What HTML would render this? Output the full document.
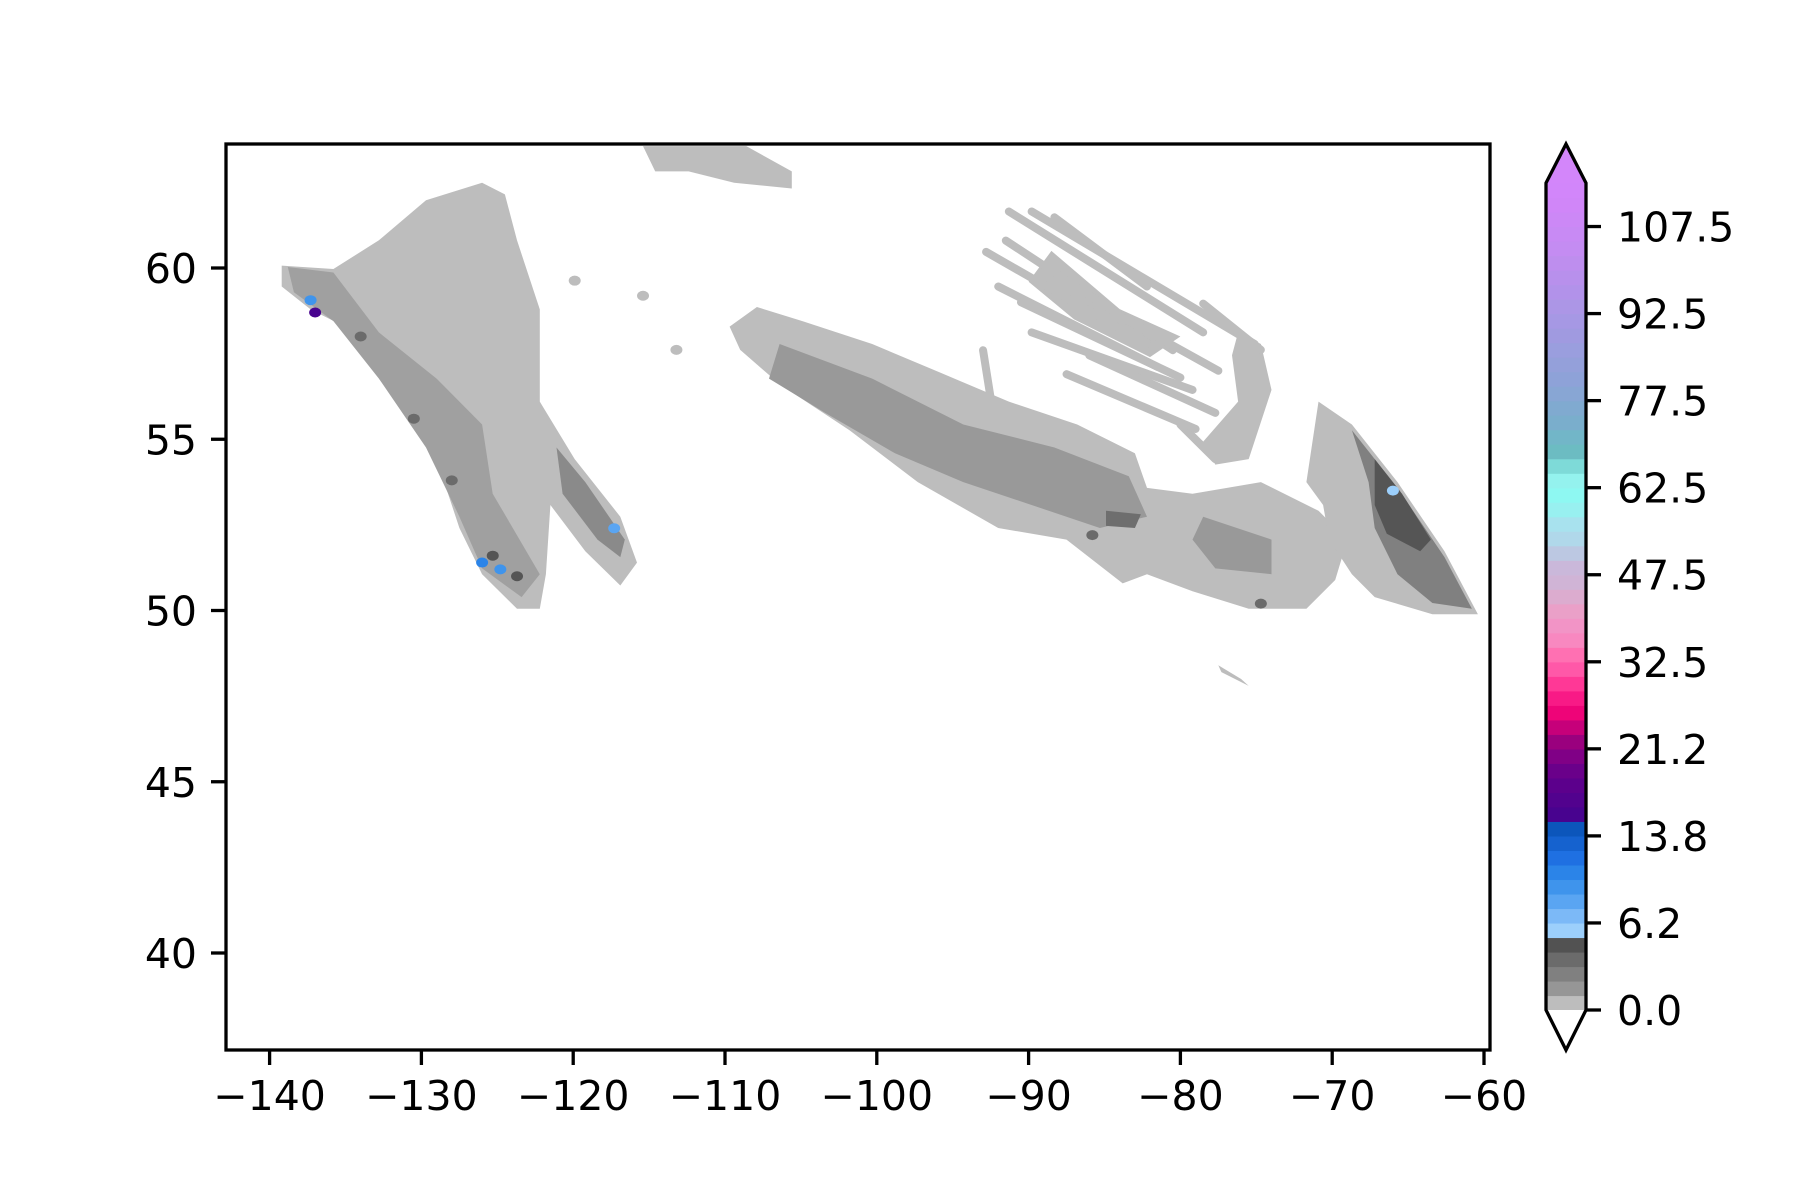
<!DOCTYPE html>
<html><head><meta charset="utf-8"><style>
html,body{margin:0;padding:0;background:#fff;}
svg{display:block;font-family:"DejaVu Sans","Liberation Sans",sans-serif;}
</style></head><body>
<svg id="fig" width="1800" height="1200" viewBox="0 0 1800 1200" xmlns="http://www.w3.org/2000/svg">
<rect width="1800" height="1200" fill="#fff"/>
<defs><clipPath id="clipAx"><rect x="226" y="144" width="1264" height="906"/></clipPath></defs>
<g id="map" clip-path="url(#clipAx)"></g>
<g id="axes"></g>
<g id="cbar"></g>
</svg>
<script>
// ---- data ----
const xTicks = [-140,-130,-120,-110,-100,-90,-80,-70,-60];
const yTicks = [60,55,50,45,40];
const cbarTickLabels = ["0.0","6.2","13.8","21.2","32.5","47.5","62.5","77.5","92.5","107.5"];
const cbarColors = ["#bdbdbd","#969696","#808080","#6b6b6b","#525252","#9ccffb",
"#7cb9f7","#5aa5f2","#3f94ec","#2b84e8","#1f70e2","#1562cf",
"#0c56bb","#48038f","#52028e","#5c008c","#6a008a","#800086",
"#9a007e","#c6007a","#ee0478","#f81a86","#ff3896","#ff58a8",
"#ff70b2","#f888c0","#f294c6","#eaa0c8","#dcaccf","#d0b4d6",
"#cab8da","#bcc8e2","#b0d8ea","#a8e2ee","#98f0f0","#8ef8f2",
"#94f2ee","#7edad8","#6cbcc2","#72b6c8","#7aaecc","#80aad0",
"#88a6d4","#8ea2d8","#94a0da","#9a9ede","#a09ae0","#a698e4",
"#ac96e6","#b292ea","#b890ec","#be8eee","#c48cf2","#c88af4",
"#cc88f6","#d086f8","#d286fa"];
// contour regions: color and lon/lat vertices
const regionColors = ["#bdbdbd","#bdbdbd","#bdbdbd","#999999","#999999","#6e6e6e","#bdbdbd","#808080","#555555","#bdbdbd","#bdbdbd","#a0a0a0","#8a8a8a","#bdbdbd"];
const regionCoords = [
 [[-109.7,58.29],[-107.9,58.86],[-104.9,58.45],[-100.3,57.78],[-95.8,56.94],[-91.3,56.10],[-86.8,55.43],[-83.0,54.59],[-82.2,53.58],[-79.2,53.41],[-74.7,53.75],[-70.9,52.91],[-69.0,52.07],[-69.8,50.89],[-71.7,50.05],[-75.5,50.05],[-79.2,50.56],[-82.2,51.06],[-83.8,50.79],[-87.5,52.07],[-92.0,52.41],[-97.3,53.75],[-101.8,55.26],[-106.4,56.61],[-109.0,57.61]],
 [[-70.9,56.10],[-68.7,55.43],[-65.7,53.75],[-62.6,51.73],[-60.4,49.89],[-63.4,49.89],[-67.2,50.39],[-68.7,51.06],[-70.2,52.07],[-70.6,53.08],[-71.7,53.75]],
 [[-76.2,58.12],[-74.7,57.78],[-74.0,56.44],[-75.5,54.42],[-77.7,54.26],[-78.5,54.93],[-76.2,56.10],[-76.6,57.45]],
 [[-106.4,57.78],[-100.3,56.77],[-94.3,55.43],[-88.3,54.76],[-83.4,53.92],[-82.2,52.74],[-85.3,52.41],[-89.8,53.08],[-94.3,53.75],[-98.8,54.59],[-103.4,55.77],[-107.1,56.77]],
 [[-78.5,52.74],[-74.0,52.07],[-74.0,51.06],[-77.7,51.23],[-79.2,52.07]],
 [[-84.9,52.91],[-82.6,52.81],[-83.0,52.41],[-84.9,52.47]],
 [[-115.4,63.56],[-108.6,63.56],[-105.6,62.82],[-105.6,62.32],[-109.4,62.49],[-112.4,62.82],[-114.6,62.82]],
 [[-68.7,55.26],[-65.7,53.58],[-62.6,51.56],[-60.8,50.05],[-63.4,50.22],[-65.7,51.06],[-67.2,52.41],[-67.6,53.75]],
 [[-67.2,54.42],[-65.4,53.41],[-63.5,52.07],[-64.2,51.73],[-66.4,52.24],[-67.2,53.08]],
 [[-139.2,60.07],[-135.8,59.97],[-132.8,60.81],[-129.7,61.98],[-126.0,62.49],[-124.5,62.15],[-123.7,60.81],[-122.2,58.79],[-122.2,56.10],[-119.9,54.42],[-116.9,52.74],[-115.8,51.40],[-116.9,50.73],[-119.2,51.73],[-121.5,53.08],[-121.8,51.06],[-122.2,50.05],[-123.7,50.05],[-126.0,51.06],[-127.5,52.41],[-129.0,54.42],[-131.3,56.44],[-134.3,58.12],[-137.3,58.79],[-139.2,59.46]],
 [[-77.5,48.4],[-76.0,48.0],[-75.5,47.8],[-77.3,48.2]],
 [[-138.8,60.03],[-135.8,59.87],[-132.8,58.12],[-129.0,56.77],[-126.0,55.43],[-125.3,53.41],[-122.2,51.06],[-123.4,50.39],[-126.0,51.23],[-127.5,52.74],[-129.7,54.76],[-132.8,56.77],[-135.8,58.45],[-138.4,59.29]],
 [[-121.1,54.76],[-119.2,53.75],[-116.6,52.07],[-116.9,51.56],[-118.4,52.07],[-120.7,53.41]],
 [[-88.5,60.5],[-84.0,58.8],[-80.0,58.0],[-82.0,57.4],[-87.0,58.5],[-90.0,59.6]]
];
// streak segments (lon1,lat1,lon2,lat2)
const streaks = [[-92.8,60.47,-82.2,57.78],[-91.3,61.65,-78.5,58.12],[-89.8,61.65,-75.1,57.78],[-88.3,61.48,-82.2,59.46],[-92.0,59.46,-81.5,57.11],[-89.8,58.12,-79.2,56.44],[-86.0,57.45,-77.7,55.77],[-78.5,58.96,-74.7,57.61],[-80.0,55.43,-77.7,54.42],[-91.5,60.8,-80.5,57.6],[-90.5,59.0,-80.0,56.8],[-84.0,58.6,-77.5,57.0],[-87.5,56.9,-79.0,55.3],[-93.0,57.6,-92.5,56.2]];
// small spots
const spotLon = [-137.3,-137.0,-126.0,-124.8,-117.3,-66.0,-85.8,-74.7,-113.2,-115.4,-119.9,-123.7,-125.3,-128.0,-130.5,-134.0];
const spotLat = [59.06,58.7,51.4,51.2,52.4,53.5,52.2,50.2,57.61,59.19,59.63,51.0,51.6,53.8,55.6,58.0];
const spotVal = ["#3f94ec","#48038f","#2b84e8","#3f94ec","#5aa5f2","#9ccffb","#6b6b6b","#6b6b6b","#bdbdbd","#bdbdbd","#bdbdbd","#555555","#555555","#6b6b6b","#6b6b6b","#6b6b6b"];

// ---- axis functions ----
const NS="http://www.w3.org/2000/svg";
const X = lon => 269.6 + (lon + 140) * 15.18;
const Y = lat => 268 + (60 - lat) * 34.25;
function mk(tag, attrs, parent){const e=document.createElementNS(NS,tag);for(const k in attrs)e.setAttribute(k,attrs[k]);parent.appendChild(e);return e;}
const map=document.getElementById('map'), axes=document.getElementById('axes'), cbar=document.getElementById('cbar');

regionCoords.forEach((poly,i)=>{
  const p=mk('polygon',{points:poly.map(q=>X(q[0]).toFixed(1)+','+Y(q[1]).toFixed(1)).join(' '),fill:regionColors[i]},map);
  
  
});
streaks.forEach(s=>{
  const l=mk('line',{x1:X(s[0]),y1:Y(s[1]),x2:X(s[2]),y2:Y(s[3]),stroke:'#bdbdbd','stroke-width':8,'stroke-linecap':'round'},map);
  
  
});
spotLon.forEach((lon,i)=>{
  const c=mk('ellipse',{cx:X(lon),cy:Y(spotLat[i]),rx:6,ry:5,fill:spotVal[i]},map);
  
  
});

// spines
const fr=mk('rect',{x:226,y:144,width:1264,height:906,fill:'none',stroke:'#000','stroke-width':3.3},axes);


xTicks.forEach(v=>{
  const x=X(v);
  const t=mk('line',{x1:x,y1:1050,x2:x,y2:1065,stroke:'#000','stroke-width':3.3},axes);
  
  
  const tx=mk('text',{x:x,y:1110,'text-anchor':'middle','font-size':41,fill:'#000'},axes);
  tx.textContent='\u2212'+Math.abs(v);
  
  
});
yTicks.forEach(v=>{
  const y=Y(v);
  const t=mk('line',{x1:211,y1:y,x2:226,y2:y,stroke:'#000','stroke-width':3.3},axes);
  
  
  const tx=mk('text',{x:197,y:y+15,'text-anchor':'end','font-size':41,fill:'#000'},axes);
  tx.textContent=String(v);
  
  
});

// colorbar
const cbL=1546, cbR=1586, cbTop=183, cbBot=1010, tipTop=144, tipBot=1050;
const bandH=(cbBot-cbTop)/cbarColors.length;
cbarColors.forEach((c,i)=>{
  const r=mk('rect',{x:cbL,y:cbBot-(i+1)*bandH,width:cbR-cbL,height:bandH+0.6,fill:c},cbar);
  
  
});
const tt=mk('polygon',{points:`${cbL},${cbTop} ${(cbL+cbR)/2},${tipTop} ${cbR},${cbTop}`,fill:'#d386fa'},cbar);


const tb=mk('polygon',{points:`${cbL},${cbBot} ${(cbL+cbR)/2},${tipBot} ${cbR},${cbBot}`,fill:'#fff'},cbar);


const ol=mk('polygon',{points:`${cbL},${cbTop} ${(cbL+cbR)/2},${tipTop} ${cbR},${cbTop} ${cbR},${cbBot} ${(cbL+cbR)/2},${tipBot} ${cbL},${cbBot}`,fill:'none',stroke:'#000','stroke-width':3.3},cbar);


cbarTickLabels.forEach((lab,i)=>{
  const y=cbBot-i*6*bandH;
  const t=mk('line',{x1:cbR,y1:y,x2:cbR+15,y2:y,stroke:'#000','stroke-width':3.3},cbar);
  
  
  const tx=mk('text',{x:cbR+31,y:y+15,'font-size':41,fill:'#000'},cbar);
  tx.textContent=lab;
  
  
});
</script>
</body></html>
